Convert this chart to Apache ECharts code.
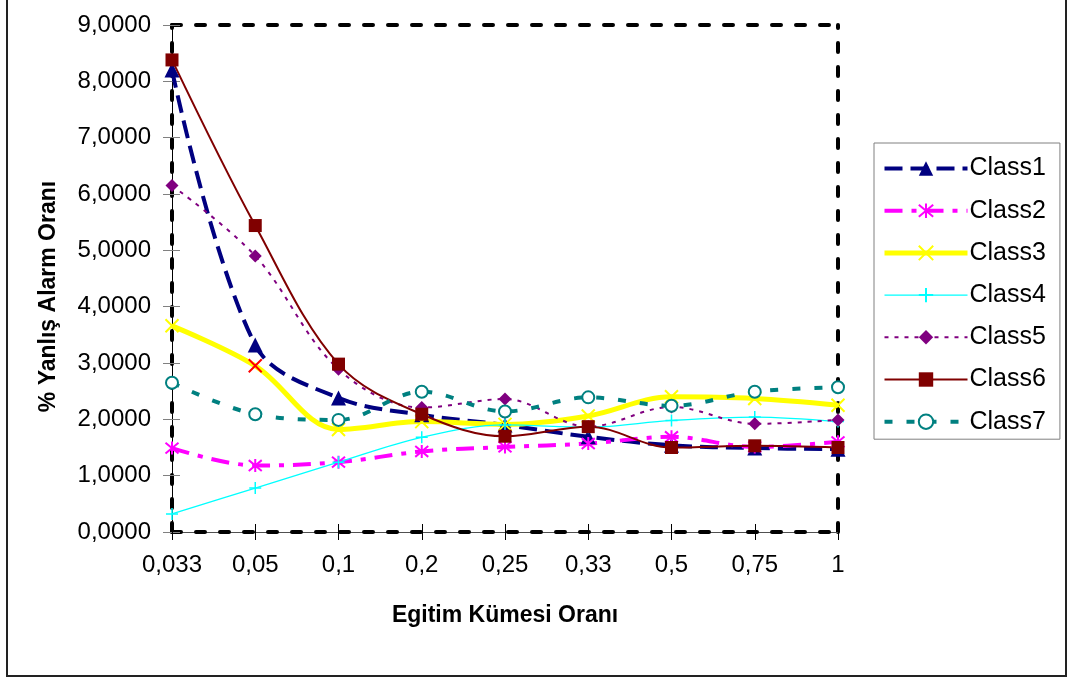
<!DOCTYPE html>
<html>
<head>
<meta charset="utf-8">
<script src="https://cdn.jsdelivr.net/npm/echarts@6/dist/echarts.min.js"></script>
<style>
  html, body { margin: 0; padding: 0; background: #fff; }
  #chart { width: 1067px; height: 681px; }
</style>
</head>
<body>
<div id="chart"></div>
<script>
// Training-set ratio categories
const categories = ['0,033', '0,05', '0,1', '0,2', '0,25', '0,33', '0,5', '0,75', '1'];

// False alarm rate (%) per class
const class1 = [8.20, 3.32, 2.38, 2.08, 1.90, 1.69, 1.54, 1.49, 1.47];
const class2 = [1.49, 1.18, 1.24, 1.43, 1.51, 1.57, 1.69, 1.51, 1.60];
const class3 = [3.66, 2.95, 1.82, 1.96, 1.91, 2.06, 2.40, 2.37, 2.25];
const class4 = [0.32, 0.78, 1.24, 1.68, 1.90, 1.86, 1.98, 2.04, 1.96];
const class5 = [6.15, 4.90, 2.89, 2.21, 2.36, 1.87, 2.22, 1.92, 1.99];
const class6 = [8.38, 5.44, 2.98, 2.09, 1.70, 1.87, 1.50, 1.53, 1.50];
const class7 = [2.65, 2.09, 1.99, 2.49, 2.14, 2.39, 2.24, 2.49, 2.57];

const yMin = 0, yMax = 9, yStep = 1;

const FONT = 'Liberation Sans, Arial, sans-serif';

// Stroke-only marker shapes
const crossX = 'path://M0,0 L10,10 M10,0 L0,10';
const plus = 'path://M5,0 L5,10 M0,5 L10,5';
const asterisk = 'path://M0,0 L10,10 M10,0 L0,10 M5,-1 L5,11';

function lineSeries(name, data, color, width, dash, symbol, size, extra) {
  const s = {
    name: name,
    type: 'line',
    data: data,
    smooth: 0.35,
    symbol: symbol,
    symbolSize: size,
    lineStyle: { color: color, width: width, type: dash },
    itemStyle: { color: color, borderColor: color, borderWidth: 0 },
    emphasis: { disabled: true },
    xAxisIndex: 0,
    yAxisIndex: 0
  };
  return Object.assign(s, extra || {});
}

// Class3 has one highlighted point drawn in red
const class3Data = class3.map((v, i) => i === 1
  ? { value: v, itemStyle: { color: '#ff0000', borderColor: '#ff0000' } }
  : v);

const series = [
  lineSeries('Class1', class1, '#000080', 4, [18, 8], 'triangle', 15),
  lineSeries('Class2', class2, '#ff00ff', 4, [18, 9, 5, 9], asterisk, 13,
    { itemStyle: { color: '#ff00ff', borderColor: '#ff00ff', borderWidth: 2 } }),
  lineSeries('Class3', class3Data, '#ffff00', 5, 'solid', crossX, 13,
    { itemStyle: { color: '#ffff00', borderColor: '#ffff00', borderWidth: 2 } }),
  lineSeries('Class4', class4, '#00ffff', 1.3, 'solid', plus, 12,
    { itemStyle: { color: '#00ffff', borderColor: '#00ffff', borderWidth: 1.5 } }),
  lineSeries('Class5', class5, '#800080', 2, [4, 6], 'diamond', 13),
  lineSeries('Class6', class6, '#800000', 2, 'solid', 'rect', 13),
  lineSeries('Class7', class7, '#008080', 4, [8, 14], 'emptyCircle', 12,
    { itemStyle: { color: '#008080', borderWidth: 2 } })
];

const dashedFrame = { show: true, onZero: false, lineStyle: { color: '#000', width: 4, type: [9, 15] } };
const plotRect = { left: 172, right: 229, top: 25, bottom: 149, containLabel: false };

const chart = echarts.init(document.getElementById('chart'), null, { renderer: 'canvas' });
chart.setOption({
  backgroundColor: '#ffffff',
  animation: false,
  textStyle: { fontFamily: FONT },
  graphic: [{
    type: 'rect',
    shape: { x: 7, y: -10, width: 1059, height: 686 },
    style: { fill: 'none', stroke: '#222', lineWidth: 2 },
    silent: true
  }],
  // grid 0 carries the data; grid 1 overlays the dashed frame on the bottom/left axes
  grid: [Object.assign({}, plotRect), Object.assign({}, plotRect)],
  legend: {
    orient: 'vertical',
    left: 874,
    top: 143,
    padding: [13, 14, 5, 8],
    itemWidth: 83,
    itemHeight: 18,
    itemGap: 17.2,
    borderColor: '#808080',
    borderWidth: 1,
    lineStyle: { width: 'inherit' },
    textStyle: { fontFamily: FONT, fontSize: 25, color: '#000', padding: [0, 0, 0, -3] },
    data: ['Class1', 'Class2', 'Class3', 'Class4', 'Class5', 'Class6', 'Class7']
  },
  xAxis: [{
    type: 'category',
    gridIndex: 0,
    position: 'bottom',
    data: categories,
    boundaryGap: false,
    name: 'Egitim Kümesi Oranı',
    nameLocation: 'middle',
    nameGap: 72,
    nameTextStyle: { fontFamily: FONT, fontSize: 23, fontWeight: 'bold', color: '#000' },
    axisLine: { show: true, onZero: false, lineStyle: { color: '#505050', width: 1 } },
    axisTick: { show: true, inside: false, length: 8, lineStyle: { color: '#000' } },
    axisLabel: { fontFamily: FONT, fontSize: 24, color: '#000', margin: 21 },
    splitLine: { show: false }
  }, {
    type: 'category',
    gridIndex: 0,
    position: 'top',
    data: categories,
    boundaryGap: false,
    axisLine: dashedFrame,
    axisTick: { show: false },
    axisLabel: { show: false },
    splitLine: { show: false }
  }, {
    type: 'category',
    gridIndex: 1,
    position: 'bottom',
    data: categories,
    boundaryGap: false,
    axisLine: dashedFrame,
    axisTick: { show: true, inside: true, length: 8, lineStyle: { color: '#000' } },
    axisLabel: { show: false },
    splitLine: { show: false }
  }],
  yAxis: [{
    type: 'value',
    gridIndex: 0,
    position: 'left',
    min: yMin, max: yMax, interval: yStep,
    name: '% Yanlış Alarm Oranı',
    nameLocation: 'middle',
    nameGap: 112,
    nameTextStyle: { fontFamily: FONT, fontSize: 23, fontWeight: 'bold', color: '#000', padding: [0, 36, 0, 0] },
    axisLine: { show: true, onZero: false, lineStyle: { color: '#000', width: 1 } },
    axisTick: { show: true, inside: false, length: 9, lineStyle: { color: '#808080' } },
    axisLabel: {
      fontFamily: FONT, fontSize: 24, color: '#000', margin: 21,
      formatter: v => v.toFixed(4).replace('.', ',')
    },
    splitLine: { show: false }
  }, {
    type: 'value',
    gridIndex: 0,
    position: 'right',
    min: yMin, max: yMax, interval: yStep,
    axisLine: dashedFrame,
    axisTick: { show: false },
    axisLabel: { show: false },
    splitLine: { show: false }
  }, {
    type: 'value',
    gridIndex: 1,
    position: 'left',
    min: yMin, max: yMax, interval: yStep,
    axisLine: dashedFrame,
    axisTick: { show: true, inside: true, length: 8, lineStyle: { color: '#808080' } },
    axisLabel: { show: false },
    splitLine: { show: false }
  }],
  series: series
});
</script>
</body>
</html>
